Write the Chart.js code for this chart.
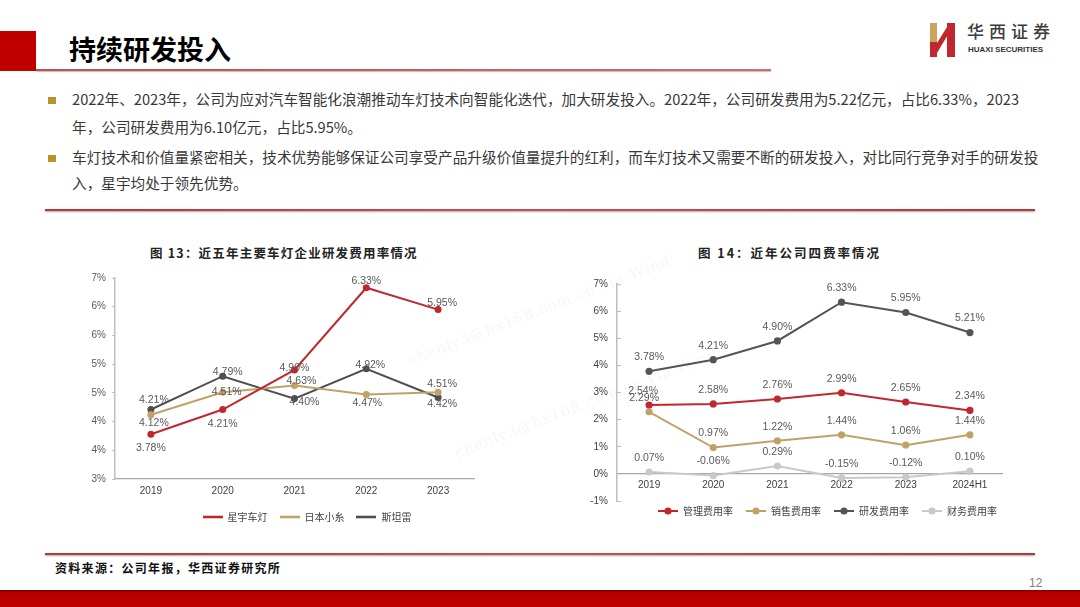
<!DOCTYPE html>
<html lang="zh-CN">
<head>
<meta charset="utf-8">
<title>持续研发投入</title>
<script src="https://cdn.jsdelivr.net/npm/chart.js@4.4.1/dist/chart.umd.min.js"></script>
<style>
html,body{margin:0;padding:0;background:#fff;}
body{width:1080px;height:607px;position:relative;overflow:hidden;font-family:"Noto Sans CJK SC","Noto Sans",sans-serif;color:#333;}
.a{position:absolute;}
.bul{position:absolute;left:48px;width:8px;height:7px;background:#B8922A;}
.txt{position:absolute;left:72px;font-size:14.65px;line-height:20px;color:#383838;white-space:nowrap;}
.sep{position:absolute;left:45px;width:990px;height:2px;background:linear-gradient(90deg,#B23A37,#C55451 50%,#B23A37);box-shadow:0 1px 2px rgba(0,0,0,0.35);}
.ctitle{position:absolute;top:245px;font-size:12.5px;line-height:16px;font-weight:bold;color:#222;white-space:nowrap;}
.wm{position:absolute;font-family:"DejaVu Serif",serif;font-size:15px;color:rgba(120,120,120,0.08);white-space:nowrap;transform:rotate(-21deg);transform-origin:0 0;letter-spacing:1px;}
</style>
</head>
<body>
<!-- header -->
<div class="a" style="left:0;top:31px;width:36px;height:40px;background:#C00000"></div>
<div class="a" style="left:69px;top:35px;font-size:27px;line-height:27px;font-weight:bold;color:#000;white-space:nowrap;">持续研发投入</div>
<div class="a" style="left:36px;top:69px;width:735px;height:2px;background:linear-gradient(90deg,#C0504D,#D36C69);box-shadow:0 1px 1px rgba(0,0,0,0.25);"></div>

<!-- logo -->
<div class="a" style="left:930px;top:23px;width:7px;height:34px;background:linear-gradient(#C9A45C 0%,#C9A45C 55%,#C0282D 56%,#C0282D 100%);"></div>
<div class="a" style="left:947px;top:23px;width:8px;height:34px;background:#C0282D;"></div>
<div class="a" style="left:937px;top:27px;width:10px;height:26px;background:#C0282D;clip-path:polygon(0 62%,100% 0,100% 36%,0 100%);"></div>
<div class="a" style="left:967px;top:21px;font-size:17px;line-height:20px;letter-spacing:5px;color:#3d3d3d;font-weight:500;white-space:nowrap;">华西证券</div>
<div class="a" style="left:968px;top:45px;font-family:'Liberation Sans',sans-serif;font-size:8px;line-height:10px;font-weight:bold;color:#333;white-space:nowrap;">HUAXI SECURITIES</div>

<!-- bullets -->
<div class="bul" style="top:97px"></div>
<div class="txt" style="top:89px">2022年、2023年，公司为应对汽车智能化浪潮推动车灯技术向智能化迭代，加大研发投入。2022年，公司研发费用为5.22亿元，占比6.33%，2023</div>
<div class="txt" style="top:117px">年，公司研发费用为6.10亿元，占比5.95%。</div>
<div class="bul" style="top:155px"></div>
<div class="txt" style="top:147px">车灯技术和价值量紧密相关，技术优势能够保证公司享受产品升级价值量提升的红利，而车灯技术又需要不断的研发投入，对比同行竞争对手的研发投</div>
<div class="txt" style="top:173px">入，星宇均处于领先优势。</div>
<div class="sep" style="top:209px"></div>

<!-- chart titles -->
<div class="ctitle" style="left:150px;letter-spacing:1.2px;">图 13：近五年主要车灯企业研发费用率情况</div>
<div class="ctitle" style="left:698px;letter-spacing:2px;">图 14：近年公司四费率情况</div>

<!-- watermarks -->
<div class="wm" style="left:405px;top:352px;">chenly3@hx168.com.cn via Wind</div>
<div class="wm" style="left:452px;top:445px;">chenly3@hx168.com.cn via Wind</div>

<!-- charts -->
<div id="box1" class="a" style="left:80px;top:266px;width:400px;height:266px;"><canvas id="c1"></canvas></div>
<div id="box2" class="a" style="left:585px;top:265px;width:423px;height:269px;"><canvas id="c2"></canvas></div>

<!-- footer -->
<div class="sep" style="top:553px"></div>
<div class="a" style="left:55px;top:560px;font-size:12px;line-height:16px;font-weight:bold;letter-spacing:1.3px;color:#111;white-space:nowrap;">资料来源：公司年报，华西证券研究所</div>
<div class="a" style="left:1029px;top:575px;font-family:'Liberation Sans Narrow','Liberation Sans',sans-serif;font-size:12px;line-height:16px;color:#808080;">12</div>
<div class="a" style="left:0;top:590px;width:1080px;height:17px;background:linear-gradient(#7a0000 0px,#B80000 3px,#C00000 100%);"></div>

<script>
// ---------- data ----------
const years1 = ['2019', '2020', '2021', '2022', '2023'];
const names1 = ['星宇车灯', '日本小糸', '斯坦雷'];
const xingyu = [3.78, 4.21, 4.90, 6.33, 5.95];
const koito = [4.12, 4.51, 4.63, 4.47, 4.51];
const stanley = [4.21, 4.79, 4.40, 4.92, 4.42];

const years2 = ['2019', '2020', '2021', '2022', '2023', '2024H1'];
const names2 = ['管理费用率', '销售费用率', '研发费用率', '财务费用率'];
const mgmtRate = [2.54, 2.58, 2.76, 2.99, 2.65, 2.34];
const salesRate = [2.29, 0.97, 1.22, 1.44, 1.06, 1.44];
const rdRate = [3.78, 4.21, 4.90, 6.33, 5.95, 5.21];
const finRate = [0.07, -0.06, 0.29, -0.15, -0.12, 0.10];

// ---------- styles ----------
const RED = '#C0282D', GOLD = '#C1A266', DARK = '#4F4F4F', LIGHT = '#C9C9C9';
const LAT = "'Liberation Sans', Arial, sans-serif";
const CJK = "'Noto Sans CJK SC', sans-serif";
Chart.defaults.animation = false;
Chart.defaults.font.family = LAT;

function legendIcon(color, w, dot, lw) {
  const c = document.createElement('canvas');
  c.width = w; c.height = 10;
  const g = c.getContext('2d');
  g.strokeStyle = color; g.lineWidth = lw;
  g.beginPath(); g.moveTo(0, 5); g.lineTo(w, 5); g.stroke();
  if (dot) { g.fillStyle = color; g.beginPath(); g.arc(w / 2, 5, 3.6, 0, Math.PI * 2); g.fill(); }
  return c;
}

const pointLabels = {
  id: 'pointLabels',
  afterDatasetsDraw(chart, args, opts) {
    const ctx = chart.ctx;
    chart.data.datasets.forEach((ds, i) => {
      const meta = chart.getDatasetMeta(i);
      ctx.save();
      ctx.font = opts.font;
      ctx.fillStyle = opts.color;
      ctx.textAlign = 'center';
      ctx.textBaseline = 'middle';
      meta.data.forEach((pt, j) => {
        const dy = ds.labelDy ? ds.labelDy[j] : opts.dy;
        const dx = ds.labelDx ? ds.labelDx[j] : 0;
        ctx.fillText(ds.data[j].toFixed(2) + '%', pt.x + dx, pt.y + dy);
      });
      ctx.restore();
    });
  }
};

const legendShift = {
  id: 'legendShift',
  afterLayout(chart, args, opts) {
    const lg = chart.legend;
    if (!lg) return;
    lg.left += opts.dx || 0; lg.right += opts.dx || 0;
    lg.top += opts.dy || 0; lg.bottom += opts.dy || 0;
  }
};

function legendLabels(icons, pad) {
  return {
    usePointStyle: true, pointStyleWidth: 20, boxHeight: 10,
    padding: pad, color: '#404040', font: { family: CJK, size: 10 },
    generateLabels(chart) {
      const items = Chart.defaults.plugins.legend.labels.generateLabels(chart);
      items.forEach((it, i) => { it.pointStyle = icons[i]; });
      return items;
    }
  };
}

// ---------- chart 1 ----------
const colors1 = [RED, GOLD, DARK];
new Chart(document.getElementById('c1'), {
  type: 'line',
  data: {
    labels: years1,
    datasets: [
      { label: names1[0], data: xingyu, borderColor: RED, backgroundColor: RED,
        labelDy: [14, 15, -2, -7, -6], labelDx: [0, 0, 0, 0, 4] },
      { label: names1[1], data: koito, borderColor: GOLD, backgroundColor: GOLD,
        labelDy: [8, 0, -4, 9, -8], labelDx: [3, 4, 7, 1, 4] },
      { label: names1[2], data: stanley, borderColor: DARK, backgroundColor: DARK,
        labelDy: [-9, -4, 4, -4, 7], labelDx: [3, 5, 10, 4, 4] }
    ].map(d => Object.assign(d, { borderWidth: 2, pointRadius: 3.5, pointBorderWidth: 0, tension: 0 }))
  },
  options: {
    responsive: true, maintainAspectRatio: false,
    layout: { padding: { left: 0, right: 6, top: 10, bottom: 0 } },
    scales: {
      x: {
        offset: true,
        grid: { display: false, drawTicks: false },
        border: { color: '#A9A9A9', width: 1.2 },
        ticks: { color: '#404040', font: { size: 10 }, padding: 6 },
        afterFit(s) { s.height = 21; }
      },
      y: {
        min: 3, max: 6.5,
        grid: { drawOnChartArea: false, drawTicks: true, tickLength: 3, color: '#BFBFBF' },
        border: { color: '#BFBFBF', width: 1.5 },
        ticks: { stepSize: 0.5, color: '#595959', font: { size: 10 }, padding: 6,
                 callback: v => Math.round(v) + '%' },
        afterFit(s) { s.width = 35; }
      }
    },
    plugins: {
      legend: { position: 'bottom', labels: legendLabels(colors1.map(c => legendIcon(c, 20, false, 2.6)), 12) },
      tooltip: { enabled: false },
      pointLabels: { font: "10.5px 'Liberation Sans', Arial, sans-serif", color: '#595959', dy: -10 },
      legendShift: { dx: 30, dy: 0 }
    }
  },
  plugins: [pointLabels, legendShift]
});

// ---------- chart 2 ----------
const colors2 = [RED, GOLD, '#555555', LIGHT];
new Chart(document.getElementById('c2'), {
  type: 'line',
  data: {
    labels: years2,
    datasets: [
      { label: names2[0], data: mgmtRate, borderColor: RED, backgroundColor: RED, labelDx: [-6, 0, 0, 0, 0, 0] },
      { label: names2[1], data: salesRate, borderColor: GOLD, backgroundColor: GOLD, labelDx: [-5, 0, 0, 0, 0, 0] },
      { label: names2[2], data: rdRate, borderColor: '#555555', backgroundColor: '#555555' },
      { label: names2[3], data: finRate, borderColor: LIGHT, backgroundColor: LIGHT }
    ].map(d => Object.assign(d, { borderWidth: 2, pointRadius: 3.6, pointBorderWidth: 0, tension: 0 }))
  },
  options: {
    responsive: true, maintainAspectRatio: false,
    layout: { padding: { left: 0, right: 6, top: 10, bottom: 0 } },
    scales: {
      x: {
        position: { y: 0 },
        offset: true,
        grid: { display: false, drawTicks: false },
        border: { color: '#A6A6A6', width: 1.2 },
        ticks: { color: '#404040', font: { size: 10 }, padding: 5 },
        afterFit(s) { s.height = 0; }
      },
      y: {
        min: -1, max: 7,
        grid: { drawOnChartArea: false, drawTicks: true, tickLength: -4, color: '#BFBFBF' },
        border: { color: '#BFBFBF', width: 1.5 },
        ticks: { stepSize: 1, color: '#404040', font: { size: 10 }, padding: 13,
                 callback: v => v + '%' },
        afterFit(s) { s.width = 32; }
      }
    },
    plugins: {
      legend: { position: 'bottom', labels: legendLabels(colors2.map(c => legendIcon(c, 20, true, 2)), 13) },
      tooltip: { enabled: false },
      pointLabels: { font: "10.5px 'Liberation Sans', Arial, sans-serif", color: '#595959', dy: -14 },
      legendShift: { dx: 34, dy: -8 }
    }
  },
  plugins: [pointLabels, legendShift]
});
</script>
</body>
</html>
